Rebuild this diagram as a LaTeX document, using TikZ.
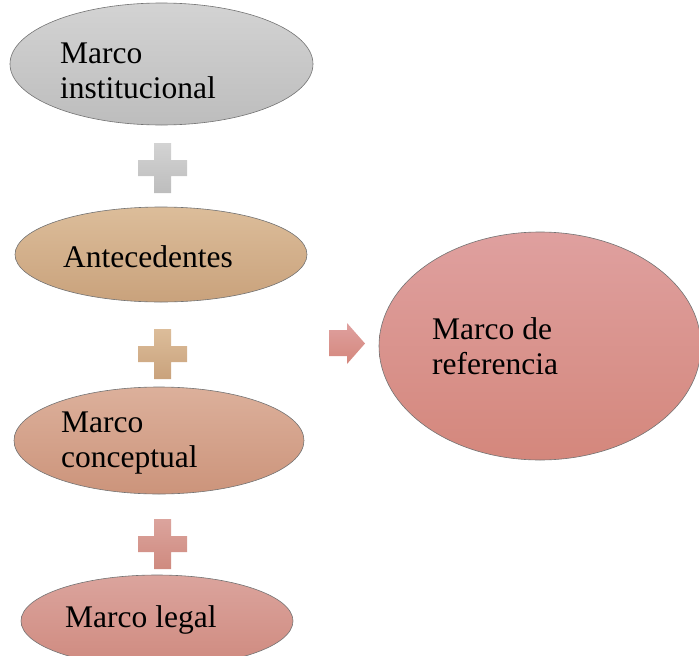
\documentclass[tikz,border=0pt]{standalone}
\usepackage{fontspec}
\setmainfont{Liberation Serif}
\usepackage{tikz}
\usetikzlibrary{shapes.geometric}

\definecolor{instTop}{HTML}{D3D3D3}
\definecolor{instBot}{HTML}{BDBDBD}
\definecolor{antTop}{HTML}{DCBD9A}
\definecolor{antBot}{HTML}{C9A27C}
\definecolor{conTop}{HTML}{DCB09B}
\definecolor{conBot}{HTML}{CC947B}
\definecolor{legTop}{HTML}{DBA49D}
\definecolor{legBot}{HTML}{CF8A7F}
\definecolor{refTop}{HTML}{DFA09F}
\definecolor{refBot}{HTML}{D4877C}

\begin{document}
\begin{tikzpicture}[x=1pt, y=-1pt,
  bubble/.style={ellipse, draw=black!55, line width=0.6pt, inner sep=0pt},
  txt/.style={anchor=base west, inner sep=0pt, align=left,
    font=\fontsize{31.5}{35}\selectfont}]
\clip (0,0) rectangle (699,656);

% ellipses
\node[bubble, minimum width=303pt, minimum height=122pt,
  top color=instTop, bottom color=instBot] (inst) at (161.5,64) {};
\node[bubble, minimum width=292pt, minimum height=95pt,
  top color=antTop, bottom color=antBot] (ante) at (161,254.5) {};
\node[bubble, minimum width=290pt, minimum height=107pt,
  top color=conTop, bottom color=conBot] (conc) at (159,440.5) {};
\node[bubble, minimum width=272pt, minimum height=92pt,
  top color=legTop, bottom color=legBot] (legal) at (157,621) {};
\node[bubble, minimum width=322pt, minimum height=228pt,
  top color=refTop, bottom color=refBot] (ref) at (540,346) {};

% texts (base = last line)
\node[txt] (instTxt) at (60,98) {Marco\\institucional};
\node[txt] (anteTxt) at (63,267) {Antecedentes};
\node[txt] (concTxt) at (61,467) {Marco\\conceptual};
\node[txt] (legalTxt) at (65,627) {Marco legal};
\node[txt] (refTxt) at (432,374) {Marco de\\referencia};

% plus signs
\foreach \py/\ct/\cb in {168/instTop/instBot, 354/antTop/antBot, 544/legTop/legBot}
  \shade[top color=\ct, bottom color=\cb]
    (154,\py-25) rectangle (171,\py+25)
    (138,\py-8) rectangle (187,\py+8);

% arrow
\shade[top color=refTop, bottom color=refBot]
  (329,330) -- (347,330) -- (347,323) -- (365,343.5)
  -- (347,364) -- (347,356) -- (329,356) -- cycle;
\end{tikzpicture}
\end{document}
